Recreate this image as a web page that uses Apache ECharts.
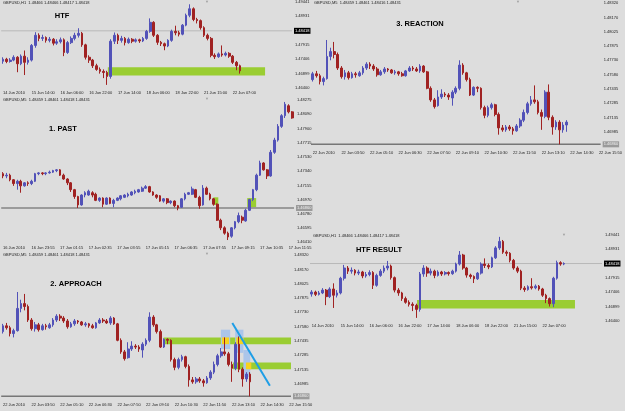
<!DOCTYPE html>
<html lang="en">
<head>
<meta charset="UTF-8">
<title>GBPUSD - HTF / past / approach / reaction</title>
<script src="https://cdn.jsdelivr.net/npm/echarts@6.0.0/dist/echarts.min.js"></script>
<style>
    html, body { margin: 0; padding: 0; background: #dddddd; }
    #chart { width: 625px; height: 411px; }
</style>
</head>
<body>
<div id="chart"></div>
<script>
    // H1 chart (shown as 2h bars), [open, close, low, high]
    var htfCandles = [
        [1.4734,1.4741,1.4725,1.4748],[1.4741,1.4733,1.4727,1.4746],[1.4733,1.4738,1.4729,1.4745],
        [1.4738,1.4748,1.4734,1.4755],[1.4748,1.4725,1.4695,1.4752],[1.4725,1.4752,1.4720,1.4758],
        [1.4752,1.4730,1.4685,1.4772],[1.4730,1.4738,1.4722,1.4748],[1.4738,1.4790,1.4733,1.4795],
        [1.4790,1.4826,1.4782,1.4837],[1.4826,1.4815,1.4805,1.4833],[1.4815,1.4818,1.4806,1.4828],
        [1.4818,1.4808,1.4800,1.4822],[1.4808,1.4812,1.4801,1.4820],[1.4812,1.4798,1.4790,1.4816],
        [1.4798,1.4803,1.4792,1.4812],[1.4803,1.4810,1.4797,1.4818],[1.4810,1.4765,1.4752,1.4815],
        [1.4765,1.4800,1.4760,1.4806],[1.4800,1.4815,1.4795,1.4822],[1.4815,1.4826,1.4808,1.4835],
        [1.4826,1.4833,1.4818,1.4851],[1.4833,1.4792,1.4785,1.4838],[1.4792,1.4748,1.4740,1.4796],
        [1.4748,1.4738,1.4728,1.4755],[1.4738,1.4718,1.4710,1.4742],[1.4718,1.4705,1.4700,1.4725],
        [1.4705,1.4698,1.4690,1.4712],[1.4698,1.4694,1.4674,1.4705],[1.4694,1.4680,1.4650,1.4700],
        [1.4680,1.4805,1.4672,1.4812],[1.4805,1.4826,1.4795,1.4836],[1.4826,1.4808,1.4795,1.4832],
        [1.4808,1.4815,1.4800,1.4824],[1.4815,1.4800,1.4790,1.4820],[1.4800,1.4812,1.4796,1.4818],
        [1.4812,1.4805,1.4798,1.4816],[1.4805,1.4810,1.4800,1.4815],[1.4810,1.4806,1.4799,1.4814],
        [1.4806,1.4815,1.4802,1.4820],[1.4815,1.4840,1.4810,1.4845],[1.4840,1.4872,1.4835,1.4886],
        [1.4872,1.4826,1.4820,1.4876],[1.4826,1.4801,1.4792,1.4830],[1.4801,1.4796,1.4788,1.4806],
        [1.4796,1.4788,1.4773,1.4800],[1.4788,1.4808,1.4784,1.4812],[1.4808,1.4840,1.4803,1.4846],
        [1.4840,1.4835,1.4826,1.4860],[1.4835,1.4830,1.4822,1.4842],[1.4830,1.4862,1.4826,1.4866],
        [1.4862,1.4897,1.4858,1.4903],[1.4897,1.4920,1.4890,1.4936],[1.4920,1.4882,1.4876,1.4925],
        [1.4882,1.4878,1.4868,1.4888],[1.4878,1.4853,1.4846,1.4882],[1.4853,1.4826,1.4820,1.4858],
        [1.4826,1.4815,1.4808,1.4832],[1.4815,1.4755,1.4748,1.4820],[1.4755,1.4750,1.4742,1.4762],
        [1.4750,1.4760,1.4746,1.4765],[1.4760,1.4756,1.4750,1.4790],[1.4756,1.4762,1.4751,1.4768],
        [1.4762,1.4752,1.4746,1.4766],[1.4752,1.4730,1.4724,1.4756],[1.4730,1.4718,1.4702,1.4735],
        [1.4718,1.4700,1.4690,1.4722],
        // bars after the HTF snapshot (only in HTF RESULT)
        [1.4700,1.4790,1.4688,1.4795],[1.4790,1.4845,1.4785,1.4852],[1.4845,1.4840,1.4834,1.4850],
        [1.4840,1.4842,1.4836,1.4846]
    ];
    var htfShown = 67; // bars visible in the first HTF panel

    // M5 16-17 Jun (shown as 10 min bars)
    var pastCandles = [
        [1.4731,1.4728,1.4725,1.4733],[1.4728,1.4729,1.4725,1.4732],[1.4729,1.4723,1.4721,1.4731],
        [1.4723,1.4718,1.4715,1.4724],[1.4718,1.4721,1.4710,1.4723],[1.4721,1.4715,1.4706,1.4723],
        [1.4715,1.4719,1.4714,1.4720],[1.4719,1.4718,1.4715,1.4721],[1.4718,1.4721,1.4716,1.4723],
        [1.4721,1.4731,1.4720,1.4732],[1.4731,1.4732,1.4729,1.4733],[1.4732,1.4731,1.4729,1.4733],
        [1.4731,1.4732,1.4729,1.4733],[1.4732,1.4733,1.4731,1.4735],[1.4733,1.4735,1.4732,1.4736],
        [1.4735,1.4736,1.4733,1.4737],[1.4736,1.4729,1.4728,1.4737],[1.4729,1.4724,1.4723,1.4731],
        [1.4724,1.4719,1.4716,1.4725],[1.4719,1.4710,1.4707,1.4720],[1.4710,1.4701,1.4698,1.4711],
        [1.4701,1.4690,1.4686,1.4702],[1.4690,1.4703,1.4689,1.4704],[1.4703,1.4706,1.4700,1.4708],
        [1.4703,1.4708,1.4702,1.4710],[1.4706,1.4703,1.4700,1.4708],[1.4704,1.4696,1.4695,1.4706],
        [1.4696,1.4699,1.4694,1.4700],[1.4699,1.4691,1.4687,1.4700],[1.4691,1.4699,1.4690,1.4700],
        [1.4699,1.4692,1.4691,1.4700],[1.4692,1.4696,1.4687,1.4698],[1.4696,1.4699,1.4695,1.4700],
        [1.4698,1.4702,1.4696,1.4703],[1.4700,1.4703,1.4699,1.4704],[1.4702,1.4704,1.4700,1.4706],
        [1.4703,1.4707,1.4702,1.4708],[1.4706,1.4708,1.4704,1.4710],[1.4707,1.4710,1.4706,1.4711],
        [1.4708,1.4712,1.4707,1.4714],[1.4712,1.4714,1.4711,1.4716],[1.4714,1.4707,1.4706,1.4715],
        [1.4707,1.4703,1.4702,1.4708],[1.4703,1.4700,1.4698,1.4704],[1.4702,1.4695,1.4694,1.4703],
        [1.4695,1.4698,1.4693,1.4699],[1.4698,1.4693,1.4691,1.4699],[1.4693,1.4695,1.4691,1.4696],
        [1.4695,1.4689,1.4687,1.4696],[1.4689,1.4686,1.4683,1.4690],[1.4687,1.4698,1.4686,1.4699],
        [1.4698,1.4704,1.4696,1.4706],[1.4704,1.4706,1.4703,1.4707],[1.4704,1.4711,1.4703,1.4714],
        [1.4710,1.4700,1.4699,1.4711],[1.4700,1.4689,1.4685,1.4702],[1.4690,1.4712,1.4689,1.4716],
        [1.4712,1.4704,1.4703,1.4714],[1.4704,1.4698,1.4696,1.4706],[1.4698,1.4691,1.4689,1.4699],
        [1.4691,1.4670,1.4669,1.4692],[1.4670,1.4660,1.4657,1.4672],[1.4660,1.4653,1.4651,1.4662],
        [1.4653,1.4648,1.4644,1.4655],[1.4649,1.4660,1.4647,1.4661],[1.4660,1.4668,1.4658,1.4669],
        [1.4668,1.4676,1.4666,1.4680],[1.4674,1.4670,1.4666,1.4676],[1.4669,1.4683,1.4668,1.4685],
        [1.4683,1.4697,1.4682,1.4698],[1.4697,1.4710,1.4695,1.4711],[1.4710,1.4729,1.4708,1.4731],
        [1.4729,1.4745,1.4728,1.4748],[1.4745,1.4736,1.4735,1.4746],[1.4736,1.4728,1.4724,1.4737],
        [1.4728,1.4759,1.4727,1.4762],[1.4759,1.4775,1.4757,1.4778],[1.4775,1.4793,1.4773,1.4796],
        [1.4793,1.4807,1.4791,1.4809],[1.4807,1.4822,1.4804,1.4825],[1.4820,1.4812,1.4810,1.4822],
        [1.4812,1.4804,1.4803,1.4813]
    ];

    // M5 22 Jun (shown as 10 min bars) - used by APPROACH and REACTION
    var reactionCandles = [
        [1.4753,1.4759,1.4751,1.4761],[1.4759,1.4757,1.4755,1.4762],[1.4757,1.4751,1.4748,1.4759],
        [1.4751,1.4754,1.4747,1.4756],[1.4754,1.4777,1.4753,1.4794],[1.4777,1.4782,1.4773,1.4786],
        [1.4782,1.4779,1.4775,1.4792],[1.4779,1.4765,1.4763,1.4781],[1.4765,1.4756,1.4754,1.4767],
        [1.4756,1.4760,1.4753,1.4763],[1.4760,1.4755,1.4753,1.4762],[1.4755,1.4759,1.4754,1.4761],
        [1.4759,1.4758,1.4755,1.4761],[1.4757,1.4760,1.4756,1.4762],[1.4760,1.4765,1.4758,1.4767],
        [1.4765,1.4769,1.4763,1.4771],[1.4769,1.4767,1.4764,1.4771],[1.4767,1.4764,1.4762,1.4769],
        [1.4764,1.4758,1.4756,1.4766],[1.4758,1.4761,1.4757,1.4763],[1.4761,1.4764,1.4759,1.4766],
        [1.4764,1.4763,1.4761,1.4765],[1.4763,1.4760,1.4759,1.4764],[1.4760,1.4761,1.4758,1.4763],
        [1.4761,1.4759,1.4757,1.4762],[1.4759,1.4757,1.4756,1.4761],[1.4757,1.4762,1.4756,1.4763],
        [1.4762,1.4765,1.4761,1.4767],[1.4765,1.4764,1.4762,1.4767],[1.4764,1.4762,1.4761,1.4766],
        [1.4762,1.4767,1.4760,1.4769],[1.4767,1.4761,1.4760,1.4768],[1.4761,1.4744,1.4743,1.4762],
        [1.4744,1.4732,1.4730,1.4746],[1.4732,1.4725,1.4723,1.4734],[1.4726,1.4735,1.4725,1.4742],
        [1.4735,1.4738,1.4733,1.4743],[1.4738,1.4737,1.4735,1.4740],[1.4737,1.4735,1.4732,1.4739],
        [1.4734,1.4740,1.4726,1.4742],[1.4740,1.4744,1.4738,1.4746],[1.4744,1.4768,1.4742,1.4773],
        [1.4768,1.4760,1.4758,1.4770],[1.4760,1.4753,1.4751,1.4761],[1.4753,1.4737,1.4736,1.4755],
        [1.4737,1.4745,1.4736,1.4746],[1.4745,1.4744,1.4740,1.4746],[1.4744,1.4724,1.4722,1.4745],
        [1.4724,1.4716,1.4713,1.4726],[1.4716,1.4724,1.4714,1.4726],[1.4724,1.4727,1.4722,1.4729],
        [1.4727,1.4717,1.4715,1.4728],[1.4717,1.4703,1.4696,1.4719],[1.4703,1.4701,1.4699,1.4706],
        [1.4701,1.4704,1.4699,1.4706],[1.4704,1.4702,1.4700,1.4706],[1.4702,1.4700,1.4696,1.4704],
        [1.4700,1.4705,1.4699,1.4707],[1.4705,1.4711,1.4703,1.4713],[1.4711,1.4719,1.4709,1.4722],
        [1.4719,1.4728,1.4717,1.4730],[1.4728,1.4732,1.4726,1.4736],[1.4732,1.4730,1.4728,1.4747],
        [1.4730,1.4719,1.4717,1.4732],[1.4719,1.4715,1.4701,1.4722],[1.4715,1.4740,1.4713,1.4742],
        [1.4740,1.4714,1.4711,1.4748],[1.4714,1.4704,1.4696,1.4716],[1.4704,1.4709,1.4701,1.4711],
        [1.4709,1.4701,1.4686,1.4711],[1.4701,1.4706,1.4698,1.4709],[1.4706,1.4709,1.4699,1.4711]
    ];
    var approachShown = 70; // bars visible in the APPROACH panel

    // time axis labels (one every 8 bars)
    var htfLabels = ['14 Jun 2010', '15 Jun 14:00', '16 Jun 06:00', '16 Jun 22:00', '17 Jun 14:00',
        '18 Jun 06:00', '18 Jun 22:00', '21 Jun 15:00', '22 Jun 07:00'];
    var pastLabels = ['16 Jun 2010', '16 Jun 23:55', '17 Jun 01:15', '17 Jun 02:35', '17 Jun 03:55',
        '17 Jun 05:15', '17 Jun 06:35', '17 Jun 07:55', '17 Jun 09:15', '17 Jun 10:35', '17 Jun 11:55'];
    var m5Labels = ['22 Jun 2010', '22 Jun 03:50', '22 Jun 05:10', '22 Jun 06:30', '22 Jun 07:50',
        '22 Jun 09:10', '22 Jun 10:30', '22 Jun 11:50', '22 Jun 13:10', '22 Jun 14:30', '22 Jun 15:50'];

    // price scale labels
    var htfTicks = [1.49441, 1.48931, 1.47915, 1.47406, 1.46899, 1.46400];
    var pastTicks = [1.48275, 1.48090, 1.47900, 1.47715, 1.47530, 1.47340, 1.47155, 1.46970, 1.46780, 1.46595, 1.46410];
    var m5Ticks = [1.48320, 1.48170, 1.48025, 1.47875, 1.47730, 1.47580, 1.47435, 1.47285, 1.47135, 1.46985];

    var htfBid = 1.48418;    // current price line on H1
    var m5Level = 1.46860;   // horizontal level on the M5 charts

    // zones: [fromBar, toBar, priceTop, priceBottom]
    var htfZone = [[29.7, 73.5, 1.4713, 1.4683]];
    var pastZones = [[59.4, 60.8, 1.4700, 1.4690], [68.9, 71.4, 1.4699, 1.4687]];
    var approachZones = [[45.4, 81, 1.4747, 1.4740], [64.8, 81, 1.4721, 1.4714]];
    var approachBoxes = [[61.4, 64.0, 1.4755, 1.4735], [65.4, 67.7, 1.4755, 1.4731], [67.7, 69.6, 1.4734, 1.4706]];
    var approachOverlaps = [[61.7, 63.7, 1.4747, 1.4740], [65.7, 67.6, 1.4747, 1.4740], [68.4, 69.9, 1.4721, 1.4714]];
    // trend line: [fromBar, fromPrice, toBar, toPrice]
    var approachTrend = [[64.6, 1.4762, 75.1, 1.4697]];

    var FONT = 'Liberation Sans';
    var UP = '#5252b8', DOWN = '#a02222';
    var GREEN = '#9acd32';

    var option = {
        backgroundColor: '#dddddd',
        animation: false,
        grid: [], xAxis: [], yAxis: [], series: [], graphic: []
    };

    function categories(labels, count) {
        var out = [];
        for (var i = 0; i < count; i++) {
            out.push(i % 8 === 0 && labels[i / 8] ? labels[i / 8] : '');
        }
        return out;
    }

    function rectSeries(xi, yi, rects, color, z) {
        return {
            type: 'custom', xAxisIndex: xi, yAxisIndex: yi, data: rects, z: z, silent: true,
            encode: {x: [0, 1], y: [2, 3]},
            renderItem: function (params, api) {
                var a = api.coord([api.value(0), api.value(2)]);
                var b = api.coord([api.value(1), api.value(3)]);
                return {type: 'rect', shape: {x: a[0], y: a[1], width: b[0] - a[0], height: b[1] - a[1]},
                    style: {fill: color}};
            }
        };
    }

    // one MT4 window
    function panel(p) {
        var gi = option.grid.length;
        option.grid.push({left: p.left, top: p.top, width: p.width, height: p.height});
        var catIndex = option.xAxis.length;
        option.xAxis.push({
            type: 'category', gridIndex: gi, data: categories(p.labels, p.count),
            axisLine: {show: false}, axisTick: {show: false}, splitLine: {show: false},
            axisLabel: {interval: 0, fontSize: 4, color: '#1c1c1c', align: 'left', margin: 3, fontFamily: FONT}
        });
        option.xAxis.push({type: 'value', gridIndex: gi, min: 0, max: p.count, show: false});
        option.yAxis.push({
            type: 'value', gridIndex: gi, position: 'right', min: p.min, max: p.max,
            axisLine: {show: false}, axisTick: {show: false}, splitLine: {show: false},
            axisLabel: {customValues: p.ticks, fontSize: 4, color: '#1c1c1c', margin: 3, fontFamily: FONT,
                formatter: function (v) { return v.toFixed(5); }}
        });
        (p.zones || []).forEach(function (z) {
            option.series.push(rectSeries(catIndex + 1, gi, z.data, z.color, z.z));
        });
        // price line with its tag on the price scale
        option.series.push({
            type: 'line', xAxisIndex: catIndex + 1, yAxisIndex: gi, z: 4, silent: true,
            data: [[0, p.line], [p.count, p.line]], symbol: 'none',
            lineStyle: {color: p.lineColor, width: p.lineWidth},
            endLabel: {show: true, distance: 2, fontSize: 4, fontFamily: FONT,
                color: p.tagText, backgroundColor: p.tagBg, padding: [1, 1],
                formatter: function (d) { return d.value[1].toFixed(5); }}
        });
        option.series.push({
            type: 'candlestick', xAxisIndex: catIndex, yAxisIndex: gi, data: p.data, z: 5,
            barWidth: 2.2,
            itemStyle: {color: UP, color0: DOWN, borderColor: UP, borderColor0: DOWN, borderWidth: 1}
        });
        if (p.trend) {
            option.series.push({
                type: 'custom', xAxisIndex: catIndex + 1, yAxisIndex: gi, data: p.trend, z: 8, silent: true,
                encode: {x: [0, 2], y: [1, 3]},
                renderItem: function (params, api) {
                    var a = api.coord([api.value(0), api.value(1)]);
                    var b = api.coord([api.value(2), api.value(3)]);
                    return {type: 'line', shape: {x1: a[0], y1: a[1], x2: b[0], y2: b[1]},
                        style: {stroke: '#1f9ee6', lineWidth: 2}};
                }
            });
        }
        option.graphic.push({type: 'text', left: p.left + 3, top: p.top + 1,
            style: {text: p.caption, font: '4px ' + FONT, fill: '#1c1c1c'}});
        option.graphic.push({type: 'text', x: p.titleX, y: p.titleY,
            style: {text: p.title, font: 'bold 7.5px ' + FONT, fill: '#000', align: 'center', verticalAlign: 'middle'}});
        option.graphic.push({type: 'text', x: p.markX, y: p.top + 2,
            style: {text: '\u25BC', font: '4px ' + FONT, fill: '#a0a0a0', align: 'center', verticalAlign: 'middle'}});
    }

    // HTF
    panel({left: 0, top: 0, width: 292, height: 88, count: 81, labels: htfLabels, ticks: htfTicks,
        min: 1.46390, max: 1.49496, data: htfCandles.slice(0, htfShown),
        line: htfBid, lineColor: '#b8b8b8', lineWidth: 1, tagBg: '#000', tagText: '#fff',
        zones: [{data: htfZone, color: GREEN, z: 1}],
        caption: 'GBPUSD,H1  1.48466 1.48466 1.48417 1.48418', title: 'HTF', titleX: 62, titleY: 16, markX: 207});
    // 1. PAST
    panel({left: 0, top: 97, width: 294, height: 146, count: 82, labels: pastLabels, ticks: pastTicks,
        min: 1.46401, max: 1.48315, data: pastCandles,
        line: m5Level, lineColor: '#858585', lineWidth: 1.5, tagBg: '#9a9a9a', tagText: '#f2f2f2',
        zones: [{data: pastZones, color: GREEN, z: 1}],
        caption: 'GBPUSD,M5  1.48459 1.48461 1.48418 1.48431', title: '1. PAST', titleX: 63, titleY: 129, markX: 207});
    // 2. APPROACH
    panel({left: 0, top: 252, width: 291, height: 148, count: 81, labels: m5Labels, ticks: m5Ticks,
        min: 1.46822, max: 1.48354, data: reactionCandles.slice(0, approachShown),
        line: m5Level, lineColor: '#777777', lineWidth: 1.5, tagBg: '#9a9a9a', tagText: '#f2f2f2',
        zones: [{data: approachZones, color: GREEN, z: 1}, {data: approachBoxes, color: '#abc5ea', z: 2},
            {data: approachOverlaps, color: '#f7d21e', z: 3}],
        trend: approachTrend,
        caption: 'GBPUSD,M5  1.48459 1.48461 1.48418 1.48431', title: '2. APPROACH', titleX: 76, titleY: 284, markX: 207});
    // 3. REACTION
    panel({left: 311, top: 0, width: 291, height: 148, count: 81, labels: m5Labels, ticks: m5Ticks,
        min: 1.46822, max: 1.48354, data: reactionCandles,
        line: m5Level, lineColor: '#777777', lineWidth: 1.5, tagBg: '#9a9a9a', tagText: '#f2f2f2',
        caption: 'GBPUSD,M5  1.48459 1.48461 1.48416 1.48431', title: '3. REACTION', titleX: 420, titleY: 24, markX: 518});
    // HTF RESULT
    panel({left: 310, top: 233, width: 292, height: 88, count: 81, labels: htfLabels, ticks: htfTicks,
        min: 1.46390, max: 1.49496, data: htfCandles,
        line: htfBid, lineColor: '#b8b8b8', lineWidth: 1, tagBg: '#000', tagText: '#fff',
        zones: [{data: htfZone, color: GREEN, z: 1}],
        caption: 'GBPUSD,H1  1.48466 1.48466 1.48417 1.48418', title: 'HTF RESULT', titleX: 379, titleY: 250, markX: 564});

    var chart = echarts.init(document.getElementById('chart'));
    chart.setOption(option);
</script>
</body>
</html>
